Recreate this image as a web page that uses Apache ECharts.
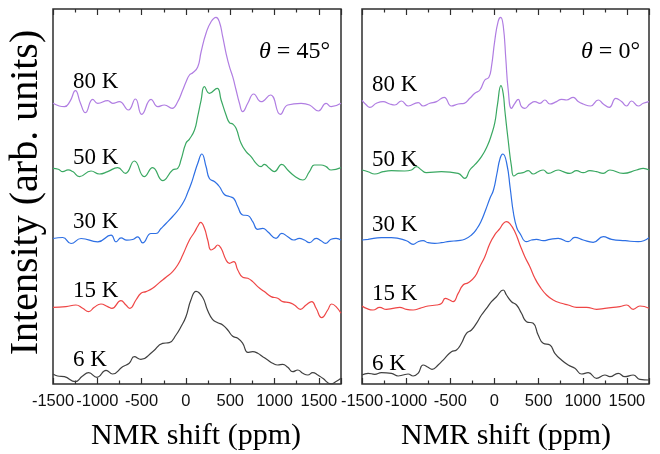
<!DOCTYPE html>
<html>
<head>
<meta charset="utf-8">
<script src="https://cdn.jsdelivr.net/npm/echarts@6/dist/echarts.min.js"></script>
<style>
  html, body { margin: 0; padding: 0; background: #ffffff; }
  #chart { width: 660px; height: 454px; }
</style>
</head>
<body>
<div id="chart"></div>
<script>
// Stacked NMR spectra at several temperatures, two field orientations.
const temperatures = ['80 K', '50 K', '30 K', '15 K', '6 K'];
const angleLabels = ['45°', '0°'];
const shiftMin = -1500;
const shiftMax = 1750;
const shiftStep = 500;

// Each spectrum: [shift (ppm), intensity above its own baseline] (arb. units)
const th45_80K = [[-1500,0.7],[-1430,-2],[-1371,-2.7],[-1310,2.3],[-1247,13.3],[-1190,0.7],[-1134,-8.7],[-1052,4.7],[-995,0.7],[-882,3.3],[-826,0.7],[-751,2.3],[-649,-6],[-570,5],[-499,-10.3],[-393,4.7],[-318,-2.7],[-243,-1],[-156,-4.3],[-93,2.3],[-36,14],[2,22.3],[40,29],[77,31.3],[133,37],[171,52],[227,70.7],[284,82.3],[340,86.7],[377,82.3],[415,67.3],[453,50.7],[491,37.3],[528,27.3],[566,14],[604,0.7],[641,-7.7],[698,0.7],[765,10],[848,2.3],[954,9],[1066,-10.3],[1149,-1],[1300,0.7],[1394,-1],[1495,-7],[1582,0.7],[1638,-2.7],[1750,0.7]];
const th45_50K = [[-1500,0],[-1440,-1],[-1390,-3.3],[-1330,-1.5],[-1277,-3.3],[-1202,-8.3],[-1071,-2.7],[-977,-5.7],[-883,-3.3],[-770,0.7],[-683,-5],[-582,7.3],[-470,-8.3],[-376,0.7],[-263,-12.3],[-150,-1.7],[-93,0],[-56,8.3],[0,25],[38,29],[96,38],[133,52],[171,68],[209,81.7],[265,75],[352,80],[397,68.3],[453,53.3],[491,45.7],[528,44.3],[566,40],[622,25],[679,16.7],[735,11.7],[792,5],[848,1.7],[885,4],[942,0],[998,-3.3],[1081,4],[1149,-1.7],[1224,-7.7],[1318,-11.7],[1394,-3.3],[1450,3.3],[1525,3.3],[1582,1.7],[1638,-1.7],[1750,0.7]];
const th45_30K = [[-1500,0],[-1390,1],[-1296,-5],[-1183,0],[-995,-3.3],[-845,3.3],[-789,-3.3],[-732,0.7],[-668,-1.7],[-601,-1],[-544,1.7],[-488,-4.3],[-394,5],[-338,5],[-281,10],[-225,15],[-150,22],[-74,30],[-18,38],[20,46],[60,55],[96,65],[133,75],[180,84.5],[227,72],[265,60],[321,57],[377,52],[434,44],[490,42],[540,40],[585,31.8],[641,23.5],[698,23],[754,16.8],[810,9.2],[867,10.2],[923,6.8],[1017,0.2],[1081,5.2],[1149,1.8],[1216,-1.5],[1280,0.2],[1337,-1.5],[1394,-4.2],[1469,0.2],[1525,-2.2],[1574,-4.8],[1638,-0.8],[1694,0.2],[1750,-1.5]];
const th45_15K = [[-1500,0],[-1354,0.7],[-1241,2.3],[-1165,-1],[-1098,-4.3],[-1034,0],[-959,3.3],[-883,0.7],[-835,-1],[-733,6.7],[-677,2.3],[-632,-1],[-564,7.3],[-507,14],[-451,15.7],[-376,19],[-300,24.7],[-225,30],[-150,35.7],[-93,42.3],[-36,52.3],[40,67.3],[96,75],[133,81],[166,85],[209,79],[246,67.3],[284,57.3],[321,59],[359,62.3],[397,59],[453,47.3],[491,44],[540,45.7],[585,37.3],[641,30],[698,29],[754,25.7],[810,20.7],[885,15.7],[961,10.7],[1036,9],[1092,5.7],[1168,4.7],[1224,2.3],[1292,-2],[1356,2.3],[1420,5.7],[1469,-1],[1533,-10.3],[1600,-2.7],[1645,3.3],[1694,0.7],[1750,-6]];
const th45_6K = [[-1500,-0.7],[-1448,-2.7],[-1371,-3.4],[-1249,-8.4],[-1170,-3],[-1098,0.6],[-1004,-4],[-901,3],[-828,-0.7],[-715,6.6],[-640,10],[-583,16.6],[-508,14],[-376,21.6],[-263,30],[-188,30.6],[-112,38.3],[-56,46.6],[0,56.6],[56,73.3],[115,82],[188,76],[244,63],[300,54],[359,50.6],[415,48.3],[472,43.3],[528,37],[585,35],[641,30],[698,21],[754,21.6],[810,20],[867,16.6],[923,13.3],[979,10],[1036,8.3],[1092,9],[1149,6],[1205,1.6],[1262,3.3],[1318,0],[1375,-1.7],[1431,0.6],[1488,-1.7],[1544,-5],[1638,-10.5],[1694,-8.3],[1750,-5]];

const th0_80K = [[-1500,3],[-1450,-1.7],[-1412,-4],[-1337,0],[-1261,1.7],[-1185,-0.7],[-1129,-1.7],[-1054,2.3],[-978,-2.7],[-864,0.7],[-808,-2.7],[-732,0],[-657,1.7],[-570,6],[-487,-2.7],[-411,-0.7],[-343,0],[-279,5],[-222,10],[-165,13.3],[-109,23.3],[-63,26],[-34,36.7],[4,63],[42,82],[70,86],[100,77],[129,44],[155,14],[193,-5],[231,0],[269,4],[306,-3.3],[344,-5],[401,-0.7],[458,1.7],[514,0],[571,3.3],[628,-0.7],[703,1.7],[759,4],[816,3.3],[892,6],[948,1.7],[1005,-0.7],[1088,-2.7],[1175,3.3],[1232,-0.7],[1300,-4],[1375,5],[1439,1.7],[1496,-2.7],[1552,2.3],[1628,-2.7],[1685,0],[1750,1.7]];
const th0_50K = [[-1500,0.7],[-1431,-1],[-1356,-3.3],[-1261,-1],[-1167,0],[-1016,-0.3],[-940,0.7],[-884,4],[-827,0.7],[-771,-2],[-601,-1],[-411,-2.7],[-336,-7.7],[-279,0.7],[-222,6],[-147,14],[-80,25],[-34,36],[4,48],[34,66],[74,85],[99,77],[118,60],[155,30.7],[193,4],[220,-5.3],[269,-2.7],[325,-2],[382,0],[439,-3.3],[495,-1],[552,0.7],[609,-2.7],[722,0.7],[778,-1],[854,-2.7],[929,0],[1005,-2],[1080,0],[1156,-1],[1232,-2.7],[1307,0.7],[1458,-2.7],[1609,0.7],[1685,2.3],[1750,0.7]];
const th0_30K = [[-1500,0],[-1431,0.7],[-1280,2.3],[-1167,2.3],[-997,-0.7],[-921,-4.3],[-865,-1.7],[-808,-0.7],[-752,-2.7],[-676,-3.3],[-601,-2.7],[-506,-1.3],[-411,-0.7],[-336,0.7],[-260,5],[-204,10.7],[-155,18],[-100,30],[-50,42],[-11,50],[27,66],[65,82],[95,86],[140,76],[178,52],[215,27],[254,12],[288,6.7],[363,-1.7],[419,0],[476,0.7],[552,-0.7],[628,0.7],[722,1.7],[835,-1.7],[911,2.7],[1005,0],[1118,-2.3],[1232,3.3],[1326,0.7],[1481,-0.7],[1628,-1.7],[1750,2.3]];
const th0_15K = [[-1500,0.7],[-1450,-1.7],[-1375,-3.3],[-1299,-0.7],[-1224,-2.7],[-1148,-1.7],[-1073,-0.7],[-997,-2.7],[-921,-3.3],[-846,-1.7],[-752,0.7],[-657,1.7],[-601,3.3],[-556,8.3],[-506,6.7],[-468,5],[-411,13.3],[-355,21.7],[-298,24],[-222,30],[-166,40],[-109,50],[-53,63],[4,72],[61,78],[99,83],[136,85],[174,83],[231,75],[288,62],[344,50],[401,40],[458,28.4],[514,20],[590,11.7],[665,6.7],[759,3.4],[835,1.7],[929,-0.6],[1043,-0.6],[1156,-2.6],[1250,-1.7],[1345,-0.6],[1420,0],[1496,1.7],[1571,-2.6],[1647,0.7],[1750,-1.6]];
const th0_6K = [[-1500,1],[-1431,2.7],[-1356,1.7],[-1280,3.3],[-1167,2.7],[-1091,0],[-1035,1],[-978,2],[-921,0],[-865,2.7],[-808,11],[-752,8.7],[-707,6.7],[-638,11],[-563,17.7],[-487,24.3],[-430,26],[-374,32.7],[-317,42.7],[-260,46],[-204,52.7],[-147,61],[-90,67.7],[-34,74.3],[23,79.3],[99,86],[136,81],[193,74.3],[250,71],[306,62.7],[363,54.3],[439,52.7],[495,41],[552,32.7],[628,31],[684,22.7],[759,16],[835,11],[911,7.7],[986,2],[1062,3.3],[1156,-2.3],[1250,1],[1307,-0.7],[1401,2.7],[1477,-0.7],[1571,1],[1647,-3.3],[1750,-4]];

// Vertical offsets that separate the stacked spectra
const offsets45 = [280, 215.7, 145.5, 76.7, 10.7];
const offsets0 = [280.7, 213.3, 144, 77.3, 8];

const spectra45 = [th45_80K, th45_50K, th45_30K, th45_15K, th45_6K];
const spectra0 = [th0_80K, th0_50K, th0_30K, th0_15K, th0_6K];

// ---- presentation ----
const lineColors = ['#b07de2', '#3aa862', '#2d6fe4', '#ef4646', '#404040'];
const frameColor = '#2e2e2e';
const serif = '"Liberation Serif", "Times New Roman", serif';
const sans = '"Liberation Sans", Arial, sans-serif';

const panels = [
  { left: 53, width: 288, spectra: spectra45, offsets: offsets45,
    labelX: 73, labelY: [89.5, 166, 230, 299.3, 368.3], angleRight: 330, titleX: 196 },
  { left: 362, width: 287, spectra: spectra0, offsets: offsets0,
    labelX: 372, labelY: [93.3, 168.3, 232.7, 301.7, 371.7], angleRight: 640, titleX: 506 }
];
const plotTop = 9, plotHeight = 375;

const grids = [], xAxes = [], yAxes = [], series = [], graphics = [];

const tickStyle = { color: frameColor, width: 1.2 };

panels.forEach((p, gi) => {
  grids.push({
    left: p.left, top: plotTop, width: p.width, height: plotHeight,
    show: true, borderColor: frameColor, borderWidth: 1.5, backgroundColor: 'transparent'
  });
  ['bottom', 'top'].forEach(pos => {
    xAxes.push({
      gridIndex: gi, type: 'value', position: pos,
      min: shiftMin, max: shiftMax, interval: shiftStep,
      axisLine: { show: false },
      axisTick: { show: true, inside: true, length: 6, lineStyle: tickStyle },
      minorTick: { show: true, splitNumber: 2, length: 3.5, lineStyle: tickStyle },
      splitLine: { show: false }, minorSplitLine: { show: false },
      axisLabel: {
        show: pos === 'bottom', margin: 9, hideOverlap: false,
        showMaxLabel: false, showMinLabel: true,
        formatter: v => (v % shiftStep === 0 ? String(v) : ''),
        fontFamily: sans, fontSize: 16.5, color: '#111'
      }
    });
  });
  yAxes.push({
    gridIndex: gi, type: 'value', min: 0, max: plotHeight, show: false
  });

  p.spectra.forEach((pts, si) => {
    series.push({
      type: 'line', name: temperatures[si] + ' ' + angleLabels[gi],
      xAxisIndex: gi * 2, yAxisIndex: gi,
      data: pts.map(([x, v]) => [x, v + p.offsets[si]]),
      showSymbol: false, smooth: 0.5,
      lineStyle: { color: lineColors[si], width: 1.2 },
      itemStyle: { color: lineColors[si] },
      silent: true
    });
    graphics.push({
      type: 'text', x: p.labelX, y: p.labelY[si] - 8,
      style: {
        text: temperatures[si], font: '23px ' + serif, fill: '#000',
        textAlign: 'left', textVerticalAlign: 'middle'
      }
    });
  });

  graphics.push({
    type: 'text', x: p.angleRight, y: 51.6,
    style: {
      text: '{i|θ} = ' + angleLabels[gi],
      font: '24px ' + serif, fill: '#000',
      textAlign: 'right', textVerticalAlign: 'middle',
      rich: { i: { fontStyle: 'italic', fontFamily: serif, fontSize: 24 } }
    }
  });

  graphics.push({
    type: 'text', x: p.titleX, y: 436.5,
    style: {
      text: 'NMR shift (ppm)', font: '30px ' + serif, fill: '#000',
      textAlign: 'center', textVerticalAlign: 'middle'
    }
  });
});

graphics.push({
  type: 'text', x: 26, y: 192.5, rotation: Math.PI / 2,
  style: {
    text: 'Intensity (arb. units)', font: '40px ' + serif, fill: '#000',
    textAlign: 'center', textVerticalAlign: 'middle'
  }
});

const chart = echarts.init(document.getElementById('chart'), null, { renderer: 'canvas' });
chart.setOption({
  animation: false,
  backgroundColor: '#ffffff',
  grid: grids,
  xAxis: xAxes,
  yAxis: yAxes,
  series: series,
  graphic: graphics
});
</script>
</body>
</html>
